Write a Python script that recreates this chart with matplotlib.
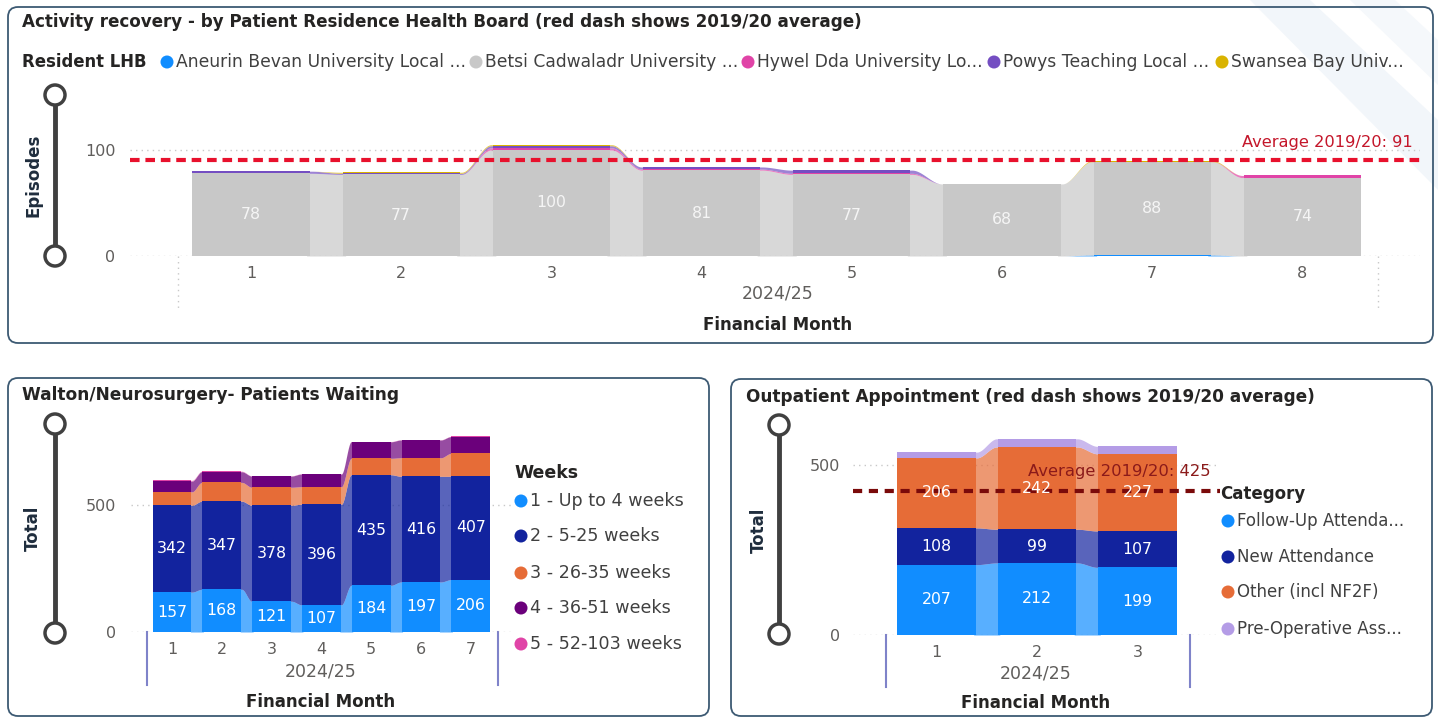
import matplotlib.pyplot as plt
import numpy as np
from matplotlib.patches import FancyBboxPatch, Circle, Polygon

W, H = 1438, 718
plt.rcParams['font.family'] = ['DejaVu Sans']

# ---- top panel: activity by resident LHB ----
lhb_months = [1, 2, 3, 4, 5, 6, 7, 8]
lhb_names = ["Aneurin Bevan University Local ...", "Betsi Cadwaladr University ...",
             "Hywel Dda University Lo...", "Powys Teaching Local ...", "Swansea Bay Univ..."]
lhb_colors = ["#118DFF", "#C8C8C8", "#E044A7", "#744EC2", "#D9B300"]
aneurin = [0, 0, 0, 0, 0, 0, 1, 0]
betsi = [78, 77, 100, 81, 77, 68, 88, 74]
hywel = [0, 0, 2, 1, 1, 0, 0, 2]
powys = [2, 1, 2, 2, 3, 0, 0, 0]
swansea = [0, 1, 1, 0, 0, 0, 1, 0]
lhb_avg = 91

# ---- bottom left: patients waiting ----
wait_months = [1, 2, 3, 4, 5, 6, 7]
week_names = ["1 - Up to 4 weeks", "2 - 5-25 weeks", "3 - 26-35 weeks",
              "4 - 36-51 weeks", "5 - 52-103 weeks"]
week_colors = ["#118DFF", "#12239E", "#E66C37", "#6B007B", "#E044A7"]
wk_up4 = [157, 168, 121, 107, 184, 197, 206]
wk_5_25 = [342, 347, 378, 396, 435, 416, 407]
wk_26_35 = [53, 74, 71, 69, 65, 73, 90]
wk_36_51 = [42, 42, 44, 50, 65, 70, 66]
wk_52_103 = [3, 2, 1, 1, 1, 1, 1]

# ---- bottom right: outpatient appointments ----
op_months = [1, 2, 3]
op_names = ["Follow-Up Attenda...", "New Attendance", "Other (incl NF2F)", "Pre-Operative Ass..."]
op_colors = ["#118DFF", "#12239E", "#E66C37", "#B49CE6"]
follow_up = [207, 212, 199]
new_att = [108, 99, 107]
other = [206, 242, 227]
pre_op = [17, 24, 22]
op_avg = 425

TXT = "#252423"
GREY = "#605E5C"
NAVY = "#1F2D3D"

fig = plt.figure(figsize=(W / 100, H / 100), dpi=100)
bg = fig.add_axes([0, 0, 1, 1])
bg.set_xlim(0, W)
bg.set_ylim(H, 0)
bg.axis('off')

# faint background stripes top right
bg.add_patch(Polygon([(1250, 0), (1310, 0), (1438, 120), (1438, 190)], color="#F2F6FA", lw=0))
bg.add_patch(Polygon([(1350, 0), (1395, 0), (1438, 40), (1438, 85)], color="#F5F8FB", lw=0))

for x0, y0, x1, y1 in [(8, 7, 1433, 343), (8, 378, 709, 716), (731, 379, 1432, 716)]:
    bg.add_patch(FancyBboxPatch((x0, y0), x1 - x0, y1 - y0,
                                boxstyle="round,pad=0,rounding_size=10",
                                fc="none", ec="#3D5A73", lw=1.3))


def slider(x, ytop, ybot):
    bg.plot([x, x], [ytop, ybot], color="#404040", lw=3.5, solid_capstyle='butt', zorder=2)
    for y in (ytop, ybot):
        bg.add_patch(Circle((x, y), 10, fc="white", ec="#404040", lw=2.5, zorder=3))


def make_axes(x0, x1, ytop, ybot, c1, step, k):
    ax = fig.add_axes([x0 / W, 1 - ybot / H, (x1 - x0) / W, (ybot - ytop) / H])
    ax.set_xlim(1 + (x0 - c1) / step, 1 + (x1 - c1) / step)
    ax.set_ylim(0, (ybot - ytop) / k)
    ax.patch.set_alpha(0)
    for s in ax.spines.values():
        s.set_visible(False)
    ax.tick_params(length=0, labelsize=11.5, labelcolor=GREY)
    return ax


def smooth(t):
    u = np.clip((t - 0.12) / 0.76, 0, 1)
    return u * u * (3 - 2 * u)


def ribbon_stack(ax, x, series, colors, width=0.78, alpha=0.7):
    x = np.asarray(x, float)
    vals = np.array(series, float)
    tops = np.cumsum(vals, axis=0)
    bots = tops - vals
    t = np.linspace(0, 1, 60)
    s = smooth(t)
    ov = 0.02  # tuck ribbon ends under the bars so no seam shows
    for k in range(len(vals)):
        ax.bar(x, vals[k], width, bottom=bots[k], color=colors[k], lw=0, zorder=2)
        for i in range(len(x) - 1):
            xs = x[i] + width / 2 - ov + (x[i + 1] - x[i] - width + 2 * ov) * t
            lo = bots[k, i] + (bots[k, i + 1] - bots[k, i]) * s
            hi = tops[k, i] + (tops[k, i + 1] - tops[k, i]) * s
            ax.fill_between(xs, lo, hi, color=colors[k], alpha=alpha, lw=0, zorder=1)
    return bots, tops


def legend_item(x, y, color, label, size=12.3):
    bg.add_patch(Circle((x, y), 6.5, fc=color, ec="none"))
    bg.text(x + 9, y, label, fontsize=size, color="#404040", va='center', ha='left')


# ================= top panel =================
bg.text(22, 22, "Activity recovery - by Patient Residence Health Board (red dash shows 2019/20 average)",
        fontsize=12.1, fontweight='bold', color=TXT, va='center')
bg.text(22, 62, "Resident LHB", fontsize=11.9, fontweight='bold', color=TXT, va='center')
for lx, c, n in zip([167, 476, 748, 994, 1222], lhb_colors, lhb_names):
    legend_item(lx, 62, c, n)
slider(55, 95, 256)
bg.text(34, 175, "Episodes", rotation=90, fontsize=12, fontweight='bold', color=NAVY,
        va='center', ha='center')

ax1 = make_axes(130, 1420, 110, 256, 251, 150.2, 1.06)
bots, tops = ribbon_stack(ax1, lhb_months, [aneurin, betsi, hywel, powys, swansea], lhb_colors)
for m, b, v in zip(lhb_months, bots[1], betsi):
    ax1.text(m, b + v / 2, str(v), color="#F5F5F5", fontsize=11.3, ha='center', va='center', zorder=4)
ax1.axhline(100, color="#C8C8C8", ls=(0, (1, 3)), lw=1, zorder=0)
ax1.axhline(0, color="#C8C8C8", ls=(0, (1, 3)), lw=1, zorder=0)
ax1.axhline(lhb_avg, color="#E8112D", ls=(0, (2.3, 1.4)), lw=3, zorder=3)
ax1.annotate(f"Average 2019/20: {lhb_avg}", (1 + (1413 - 251) / 150.2, lhb_avg),
             xytext=(0, 7), textcoords='offset points', ha='right', va='bottom',
             fontsize=11.7, color="#C4162A")
ax1.set_xticks(lhb_months)
ax1.set_yticks([0, 100])
ax1.tick_params(axis='x', pad=7)
ax1.tick_params(axis='y', pad=10.5)
for xv in (178, 1378):
    bg.plot([xv, xv], [256, 308], color="#C8C8C8", ls=(0, (1, 3)), lw=1)
bg.text(778, 293, "2024/25", fontsize=12.5, color=GREY, ha='center', va='center')
bg.text(778, 325, "Financial Month", fontsize=12, fontweight='bold', color=TXT, ha='center', va='center')

# ================= bottom left =================
bg.text(22, 395, "Walton/Neurosurgery- Patients Waiting", fontsize=12.25, fontweight='bold',
        color=TXT, va='center')
slider(55, 424, 633)
bg.text(33, 528, "Total", rotation=90, fontsize=12, fontweight='bold', color=NAVY,
        va='center', ha='center')
ax2 = make_axes(131, 511, 420, 632, 172, 49.8, 0.254)
bots, tops = ribbon_stack(ax2, wait_months, [wk_up4, wk_5_25, wk_26_35, wk_36_51, wk_52_103],
                          week_colors)
for k, vals in enumerate([wk_up4, wk_5_25]):
    for m, b, v in zip(wait_months, bots[k], vals):
        ax2.text(m, b + v / 2, str(v), color="white", fontsize=11.3, ha='center', va='center', zorder=4)
ax2.axhline(500, color="#C8C8C8", ls=(0, (1, 3)), lw=1, zorder=0)
ax2.axhline(0, color="#C8C8C8", ls=(0, (1, 3)), lw=1, zorder=0)
ax2.set_xticks(wait_months)
ax2.set_yticks([0, 500])
ax2.tick_params(axis='x', pad=7.5)
ax2.tick_params(axis='y', pad=11)
for xv in (147, 498):
    bg.plot([xv, xv], [632, 685], color="#7F83C9", lw=1.5)
bg.text(321, 672, "2024/25", fontsize=12.5, color=GREY, ha='center', va='center')
bg.text(321, 702, "Financial Month", fontsize=12, fontweight='bold', color=TXT, ha='center', va='center')
bg.text(514, 473, "Weeks", fontsize=12.5, fontweight='bold', color=TXT, va='center')
for ly, c, n in zip([501, 536, 573, 608, 644], week_colors, week_names):
    legend_item(521, ly, c, n, size=12.6)

# ================= bottom right =================
bg.text(746, 397, "Outpatient Appointment (red dash shows 2019/20 average)", fontsize=12.2,
        fontweight='bold', color=TXT, va='center')
slider(779, 425, 634)
bg.text(759, 530, "Total", rotation=90, fontsize=12, fontweight='bold', color=NAVY,
        va='center', ha='center')
ax3 = make_axes(853, 1220, 420, 635, 936.5, 100.5, 0.34)
bots, tops = ribbon_stack(ax3, op_months, [follow_up, new_att, other, pre_op], op_colors)
for k, vals in enumerate([follow_up, new_att, other]):
    for m, b, v in zip(op_months, bots[k], vals):
        ax3.text(m, b + v / 2, str(v), color="white", fontsize=11.3, ha='center', va='center', zorder=4)
ax3.axhline(500, color="#C8C8C8", ls=(0, (1, 3)), lw=1, zorder=0)
ax3.axhline(0, color="#C8C8C8", ls=(0, (1, 3)), lw=1, zorder=0)
ax3.axhline(op_avg, color="#7A0A0A", ls=(0, (2.2, 1.6)), lw=3, zorder=3)
ax3.annotate(f"Average 2019/20: {op_avg}", (1 + (1211 - 936.5) / 100.5, op_avg),
             xytext=(0, 8), textcoords='offset points', ha='right', va='bottom',
             fontsize=11.8, color="#8B1A1A", zorder=5)
ax3.set_xticks(op_months)
ax3.set_yticks([0, 500])
ax3.tick_params(axis='x', pad=7)
ax3.tick_params(axis='y', pad=9.5)
for xv in (886, 1190):
    bg.plot([xv, xv], [635, 687], color="#7F83C9", lw=1.5)
bg.text(1036, 674, "2024/25", fontsize=12.5, color=GREY, ha='center', va='center')
bg.text(1036, 703, "Financial Month", fontsize=12, fontweight='bold', color=TXT, ha='center', va='center')
bg.text(1220, 494, "Category", fontsize=12, fontweight='bold', color=TXT, va='center')
for ly, c, n in zip([521, 557, 592, 629], op_colors, op_names):
    legend_item(1228, ly, c, n, size=12)

fig.savefig("out.png", dpi=100, facecolor="white")
